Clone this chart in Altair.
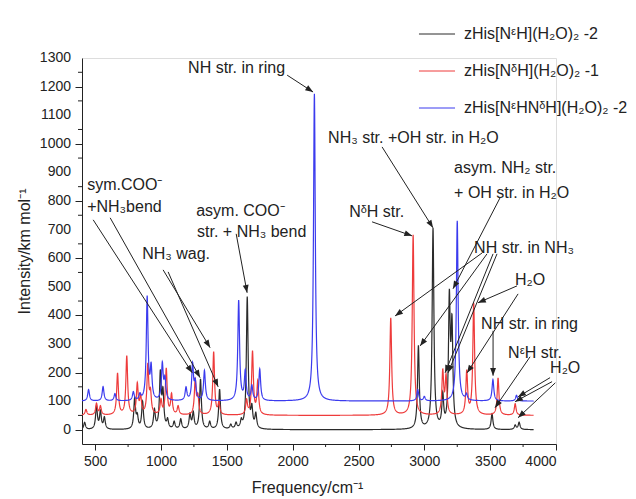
import math
import numpy as np
import pandas as pd
import altair as alt

FONT = "Liberation Sans"

SERIES = ["zHis[NᵋH](H₂O)₂ -2", "zHis[NᵟH](H₂O)₂ -1", "zHis[NᵋHNᵟH](H₂O)₂ -2"]
COLORS = ["#2b2b2b", "#ee3b3b", "#3b3bee"]
OFFSETS = [0, 50, 100]

# peak positions (cm-1) and intensities (km/mol)
BLACK_FREQ = [420, 510, 540, 570, 800, 820, 860, 950, 995, 1015, 1050, 1100, 1150, 1220, 1245, 1300,
              1370, 1445, 1530, 1570, 1610, 1655, 1690, 1720, 2955, 3066, 3140, 3190, 3210, 3514, 3690, 3720]
BLACK_INT = [25, 80, 60, 40, 105, 40, 95, 65, 190, 120, 30, 25, 35, 50, 55, 175,
             25, 140, 15, 20, 25, 460, 65, 50, 290, 700, 110, 440, 340, 55, 15, 25]

RED_FREQ = [430, 510, 540, 670, 740, 820, 845, 900, 920, 1000, 1040, 1080, 1130, 1260, 1280, 1400,
            1440, 1650, 1695, 1735, 2745, 2915, 3140, 3165, 3322, 3375, 3560, 3690]
RED_INT = [20, 40, 30, 145, 205, 105, 60, 170, 70, 50, 160, 70, 30, 120, 60, 220,
           40, 50, 220, 115, 340, 630, 150, 130, 150, 390, 130, 40]

BLUE_FREQ = [450, 560, 650, 790, 840, 895, 925, 1010, 1030, 1190, 1240, 1260, 1330, 1590, 1640, 1690,
             1750, 2165, 2950, 3000, 3250, 3320, 3521, 3700]
BLUE_INT = [40, 50, 25, 30, 20, 360, 110, 125, 70, 45, 125, 60, 105, 350, 100, 50,
            110, 1075, 40, 15, 630, 20, 75, 20]

FREQ_START, FREQ_END = 400, 3830
HWHM = 8.0

X_TICKS = list(range(500, 4001, 500))
X_MINOR = list(range(750, 4000, 500))
Y_TICKS = list(range(0, 1301, 100))
Y_LABELS = [str(v) for v in Y_TICKS]
Y_MINOR = list(range(50, 1300, 100))

ANNOT_TEXT = ["NH str. in ring", "sym.COO⁻", "+NH₃bend", "asym. COO⁻", "str. + NH₃ bend", "NH₃ wag.",
              "NH₃ str. +OH str. in H₂O", "asym. NH₂ str.", "+ OH str. in H₂O", "NᵟH str.",
              "NH str. in NH₃", "H₂O", "NH str. in ring", "NᵋH str.", "H₂O"]
ANNOT_X = [1206, 439, 439, 1267, 1274, 857, 2269, 3226, 3226, 2429, 3378, 3689, 3431, 3636, 3955]
ANNOT_Y = [1265, 856, 779, 765, 692, 615, 1020, 915, 828, 762, 636, 524, 370, 269, 217]

ARROW_X1 = [1958, 485, 614, 1016, 1054, 1571, 2679, 3575, 2603, 3438, 3476, 3522, 3552, 3704, 3712,
            3522, 3803, 3955, 3970, 3995]
ARROW_Y1 = [1240, 734, 741, 559, 552, 685, 989, 811, 727, 618, 615, 615, 615, 503, 475,
            346, 255, 182, 168, 164]
ARROW_X2 = [2155, 1237, 1297, 1373, 1434, 1654, 3066, 3218, 2907, 2778, 2968, 3158, 3180, 3408, 3325,
            3522, 3537, 3712, 3689, 3712]
ARROW_Y2 = [1181, 199, 182, 287, 150, 479, 706, 493, 678, 398, 293, 199, 199, 444, 199,
            189, 77, 115, 98, 42]

X_DOMAIN = [400, 4000]
Y_DOMAIN = [-50, 1300]
W, H = 474, 386

# ---- spectra: Lorentzian-broadened stick spectra ----
grid = np.arange(FREQ_START, FREQ_END + 1, 1.0)
rows = []
for name, off, fr, it in zip(SERIES, OFFSETS, [BLACK_FREQ, RED_FREQ, BLUE_FREQ],
                             [BLACK_INT, RED_INT, BLUE_INT]):
    y = np.full_like(grid, float(off))
    for f0, a in zip(fr, it):
        y += a * HWHM ** 2 / ((grid - f0) ** 2 + HWHM ** 2)
    rows.append(pd.DataFrame({"freq": grid, "inten": np.round(y, 2), "series": name}))
spec = pd.concat(rows, ignore_index=True)

xs = alt.Scale(domain=X_DOMAIN, nice=False, zero=False)
ys = alt.Scale(domain=Y_DOMAIN, nice=False, zero=False)

x_axis = alt.Axis(
    values=X_TICKS, format="d", tickSize=6, labelOverlap=False,
    title="Frequency/cm⁻¹", titleFontSize=16, titleFont=FONT, titleFontWeight="normal",
    titlePadding=11, titleX=225,
    labelFontSize=14, labelFont=FONT, labelPadding=4, grid=False,
    domainColor="#222", tickColor="#222", labelColor="#222", titleColor="#222")
y_axis = alt.Axis(
    values=Y_TICKS, tickSize=7, labels=False,
    title="Intensity/km mol⁻¹", titleFontSize=16, titleFont=FONT, titleFontWeight="normal",
    titlePadding=42, grid=False,
    domainColor="#222", tickColor="#222", titleColor="#222")

lines = alt.Chart(spec).mark_line(strokeWidth=1.2, clip=True).encode(
    x=alt.X("freq:Q", scale=xs, axis=x_axis),
    y=alt.Y("inten:Q", scale=ys, axis=y_axis),
    color=alt.Color("series:N",
                    scale=alt.Scale(domain=SERIES, range=COLORS),
                    sort=SERIES,
                    legend=alt.Legend(orient="none", legendX=336, legendY=-43, title=None,
                                      symbolType="M-1,-0.79M-1,0L1,0M1,0.79", symbolSize=1300,
                                      symbolStrokeWidth=1,
                                      labelFontSize=16, labelFont=FONT, labelLimit=400,
                                      labelOffset=8, rowPadding=1, padding=0, labelColor="#222")),
    detail="series:N",
)

# ---- y tick labels and minor ticks ----
ylab = alt.Chart(pd.DataFrame({"v": Y_TICKS, "lab": Y_LABELS})).mark_text(
    align="right", baseline="middle", fontSize=14, font=FONT, color="#222").encode(
    y=alt.Y("v:Q", scale=ys), x=alt.value(-11), text="lab:N")
minor_y = alt.Chart(pd.DataFrame({"v": Y_MINOR})).mark_rule(color="#222", strokeWidth=1).encode(
    y=alt.Y("v:Q", scale=ys), x=alt.value(-4), x2=alt.value(0))
minor_x = alt.Chart(pd.DataFrame({"f": X_MINOR})).mark_rule(color="#222", strokeWidth=1).encode(
    x=alt.X("f:Q", scale=xs), y=alt.value(H), y2=alt.value(H + 3))

# ---- annotations ----
annot = pd.DataFrame({"x": ANNOT_X, "y": ANNOT_Y, "label": ANNOT_TEXT})
texts = alt.Chart(annot).mark_text(align="left", baseline="middle", fontSize=16, font=FONT,
                                   color="#222").encode(
    x=alt.X("x:Q", scale=xs), y=alt.Y("y:Q", scale=ys), text="label:N")

sx = W / (X_DOMAIN[1] - X_DOMAIN[0])
sy = H / (Y_DOMAIN[1] - Y_DOMAIN[0])
angles = []
for x1, y1, x2, y2 in zip(ARROW_X1, ARROW_Y1, ARROW_X2, ARROW_Y2):
    dx = (x2 - x1) * sx
    dy_down = -(y2 - y1) * sy
    ang = math.degrees(math.atan2(dx, -dy_down)) % 360
    angles.append(round(ang, 2))
arrows = pd.DataFrame({"x1": ARROW_X1, "y1": ARROW_Y1, "x2": ARROW_X2, "y2": ARROW_Y2, "ang": angles})

arrow_lines = alt.Chart(arrows).mark_rule(color="#222", strokeWidth=1).encode(
    x=alt.X("x1:Q", scale=xs), y=alt.Y("y1:Q", scale=ys), x2="x2:Q", y2="y2:Q")
arrow_heads = alt.Chart(arrows).mark_point(
    shape="M0,0 L-0.38,1 L0.38,1 Z", filled=True, color="#222", opacity=1, size=240, strokeWidth=0
).encode(x=alt.X("x2:Q", scale=xs), y=alt.Y("y2:Q", scale=ys),
         angle=alt.Angle("ang:Q", scale=None))

chart = alt.layer(lines, ylab, minor_y, minor_x, arrow_lines, arrow_heads, texts).properties(
    width=W, height=H,
    autosize=alt.AutoSizeParams(type="none"),
    padding={"left": 74, "top": 50, "right": 72, "bottom": 55},
).configure_view(strokeWidth=0, strokeOpacity=0).configure(background="white")

chart.save("out.html", embed_options={"renderer": "svg", "actions": False})
